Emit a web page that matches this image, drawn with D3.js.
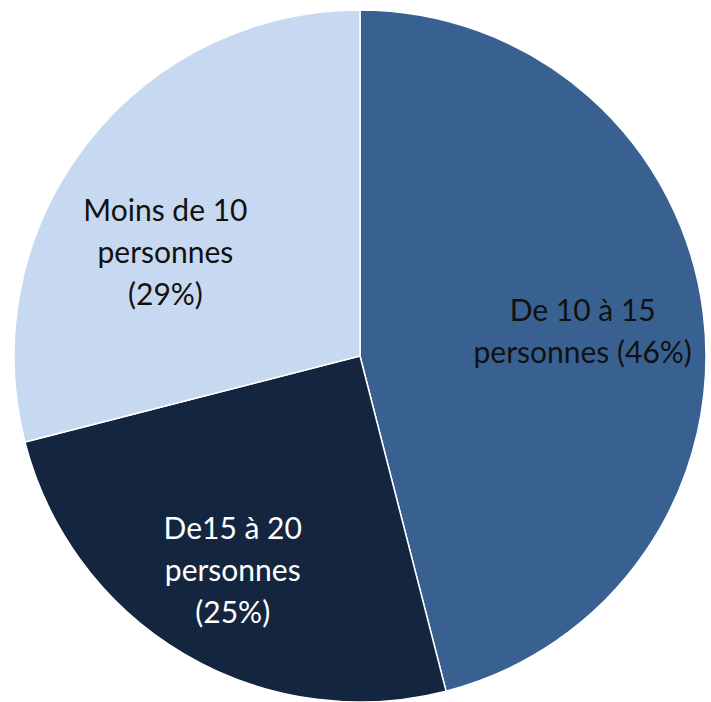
<!DOCTYPE html>
<html>
<head>
<meta charset="utf-8">
<script src="https://cdn.jsdelivr.net/npm/d3@7"></script>
<style>
  body { margin: 0; background: #fff; }
</style>
</head>
<body>
<div id="chart"></div>
<script>
var categories = ['De 10 à 15 personnes', 'De15 à 20 personnes', 'Moins de 10 personnes'];
var values = [46, 25, 29];
var colors = ['#386192', '#14263f', '#c7d9f0'];
var label_lines = [
    ['De 10 à 15', 'personnes (46%)'],
    ['De15 à 20', 'personnes', '(25%)'],
    ['Moins de 10', 'personnes', '(29%)']
];
var label_colors = ['#111', '#fff', '#111'];

var chart_width = 711;
var chart_height = 702;
var cx = 360, cy = 356, radius = 346;
// label distance from centre and angle tweak (degrees)
var label_dist = [224, 250, 220];
var label_turn = [1, 0, -10];

var svg = d3.select('#chart')
    .append('svg')
    .attr('width', chart_width)
    .attr('height', chart_height);

var g = svg.append('g').attr('transform', 'translate(' + cx + ',' + cy + ')');

var pie = d3.pie().sort(null).value(function (d) { return d; });
var arcs = pie(values);

var arc = d3.arc().innerRadius(0).outerRadius(radius);

g.selectAll('path')
    .data(arcs)
    .enter()
    .append('path')
    .attr('d', arc)
    .attr('fill', function (d, i) { return colors[i]; })
    .attr('stroke', '#fff')
    .attr('stroke-width', 1.5);

var line_h = 42;
g.selectAll('text.lbl')
    .data(arcs)
    .enter()
    .append('text')
    .attr('class', 'lbl')
    .attr('font-family', 'Lato, Open Sans, sans-serif')
    .attr('font-size', 30)
    .attr('fill', function (d, i) { return label_colors[i]; })
    .attr('text-anchor', 'middle')
    .each(function (d, i) {
        var a = (d.startAngle + d.endAngle) / 2 + label_turn[i] * Math.PI / 180;
        var x = label_dist[i] * Math.sin(a);
        var y = -label_dist[i] * Math.cos(a);
        var lines = label_lines[i];
        var t = d3.select(this);
        var y0 = y - (lines.length - 1) * line_h / 2 + 10;
        lines.forEach(function (l, j) {
            t.append('tspan')
                .attr('x', x)
                .attr('y', y0 + j * line_h)
                .text(l);
        });
    });
</script>
</body>
</html>
